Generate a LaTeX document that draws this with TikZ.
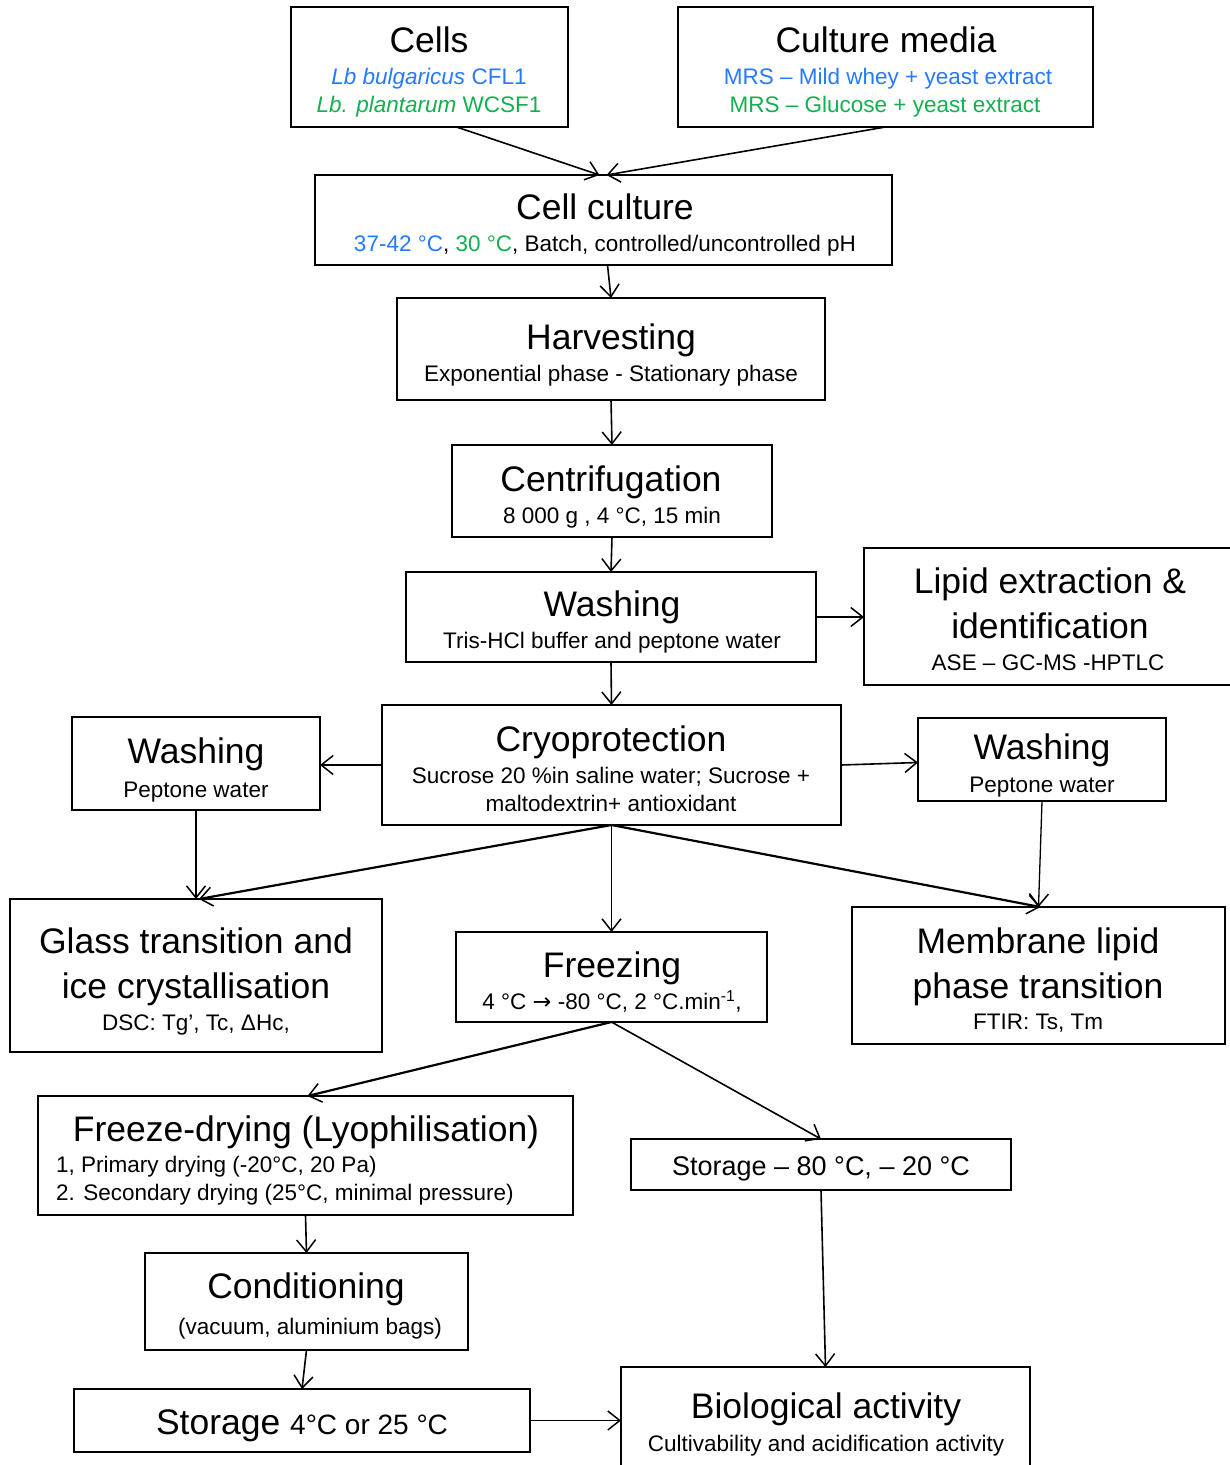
\documentclass[tikz,border=0pt]{standalone}
\usepackage{fontspec}
\setmainfont{Liberation Sans}
\newfontfamily\arrowfont{DejaVu Sans}
\usetikzlibrary{arrows.meta,calc}
\definecolor{cblue}{RGB}{38,122,255}
\definecolor{cgreen}{RGB}{20,176,80}
\newcommand{\bx}[5]{\node[box, minimum width={(#4-#2)*1pt}, minimum height={(#5-#3)*1pt}] (#1) at ({(#2+#4)/2},{(#3+#5)/2}) {};}
\begin{document}
\begin{tikzpicture}[x=1pt,y=-1pt,
  box/.style={draw, line width=2pt, inner sep=0pt, outer sep=0pt},
  ttl/.style={font=\fontsize{35.5}{40}\selectfont, inner sep=0pt, anchor=base},
  sub/.style={font=\fontsize{22.5}{26}\selectfont, inner sep=0pt, anchor=base},
  arr/.style={line width=1.6pt, -{Straight Barb[length=12pt,width=19pt,line width=1.5pt]}},
  thk/.style={arr, line width=2.2pt},
]
\useasboundingbox (0,0) rectangle (1230,1465);
\fill[white] (0,0) rectangle (1230,1465);

% boxes
\bx{cells}{291}{7}{568}{127}
\bx{media}{678}{7}{1093}{127}
\bx{cc}{315}{175}{892}{265}
\bx{harv}{397}{298}{825}{400}
\bx{cent}{452}{445}{772}{537}
\bx{wash}{406}{572}{816}{662}
\bx{lipid}{864}{548}{1240}{685}
\bx{cryo}{382}{705}{841}{825}
\bx{washL}{72}{717}{320}{810}
\bx{washR}{918}{718}{1166}{801}
\bx{glass}{10}{899}{382}{1052}
\bx{freez}{456}{932}{767}{1022}
\bx{memb}{852}{907}{1225}{1044}
\bx{fd}{38}{1096}{573}{1215}
\bx{sto80}{631}{1139}{1011}{1190}
\bx{cond}{145}{1253}{468}{1350}
\bx{sto4}{74}{1389}{530}{1452}
\bx{bio}{621}{1367}{1030}{1480}

% texts
\node[ttl] (t1) at (429,52) {Cells};
\node[sub, text=cblue] (t1a) at (429,84) {\textit{Lb bulgaricus} CFL1};
\node[sub, text=cgreen] (t1b) at (429,112) {\textit{Lb. plantarum} WCSF1};

\node[ttl] (t2) at (886,52) {Culture media};
\node[sub, text=cblue] (t2a) at (888,84) {MRS – Mild whey + yeast extract};
\node[sub, text=cgreen] (t2b) at (885,112) {MRS – Glucose + yeast extract};

\node[ttl] (t3) at (605,219) {Cell culture};
\node[sub] (t3a) at (605,251) {{\color{cblue}37-42 °C}, {\color{cgreen}30 °C}, Batch, controlled/uncontrolled pH};

\node[ttl] (t4) at (611,349) {Harvesting};
\node[sub] (t4a) at (611,381) {Exponential phase - Stationary phase};

\node[ttl] (t5) at (611,491) {Centrifugation};
\node[sub] (t5a) at (612,523) {8 000 g , 4 °C, 15 min};

\node[ttl] (t6) at (612,616) {Washing};
\node[sub] (t6a) at (612,648) {Tris-HCl buffer and peptone water};

\node[ttl] (t7) at (1050,593) {Lipid extraction \&};
\node[ttl] (t7b) at (1050,638) {identification};
\node[sub] (t7a) at (1048,670) {ASE – GC-MS -HPTLC};

\node[ttl] (t8) at (611,751) {Cryoprotection};
\node[sub] (t8a) at (611,783) {Sucrose 20 \%in saline water; Sucrose +};
\node[sub] (t8b) at (611,811) {maltodextrin+ antioxidant};

\node[ttl] (t9) at (196,763) {Washing};
\node[sub] (t9a) at (196,797) {Peptone water};

\node[ttl] (t10) at (1042,759) {Washing};
\node[sub] (t10a) at (1042,792) {Peptone water};

\node[ttl] (t11) at (196,953) {Glass transition and};
\node[ttl] (t11b) at (196,998) {ice crystallisation};
\node[sub] (t11a) at (196,1030) {DSC: Tg’, Tc, ΔHc,};

\node[ttl] (t12) at (612,977) {Freezing};
\node[sub] (t12a) at (612,1009) {4 °C {\arrowfont →} -80 °C, 2 °C.min\textsuperscript{-1},};

\node[ttl] (t13) at (1038,953) {Membrane lipid};
\node[ttl] (t13b) at (1038,998) {phase transition};
\node[sub] (t13a) at (1038,1029) {FTIR: Ts, Tm};

\node[ttl] (t14) at (306,1141) {Freeze-drying (Lyophilisation)};
\node[sub, anchor=base west] (t14a) at (56,1172) {1, Primary drying (-20°C, 20 Pa)};
\node[sub, anchor=base west] (t14b) at (56,1200) {2. Secondary drying (25°C, minimal pressure)};

\node[sub, font=\fontsize{27}{30}\selectfont] (t15) at (821,1175) {Storage – 80 °C, – 20 °C};

\node[ttl] (t16) at (306,1298) {Conditioning};
\node[sub] (t16a) at (310,1334) {(vacuum, aluminium bags)};

\node[ttl] (t17) at (302,1434) {Storage {\fontsize{28}{30}\selectfont 4°C or 25 °C}};

\node[ttl] (t18) at (826,1418) {Biological activity};
\node[sub] (t18a) at (826,1451) {Cultivability and acidification activity};

% connectors
\draw[arr] ([xshift=27pt]cells.south) -- ([xshift=-4pt]cc.north);
\draw[arr] (media.south) -- ([xshift=3pt]cc.north);
\draw[arr] ([xshift=4pt]cc.south) -- (harv.north);
\draw[arr] (harv.south) -- (cent.north);
\draw[arr] (cent.south) -- (wash.north);
\draw[arr] (wash.east) -- (wash.east -| lipid.west);
\draw[arr] (wash.south) -- (cryo.north);
\draw[arr] (cryo.west) -- (cryo.west -| washL.east);
\draw[arr] (cryo.east) -- ([yshift=-3pt]washR.west);
\draw[arr, line width=1.3pt] (washL.south) -- (glass.north);
\draw[arr, line width=1.3pt] (washR.south) -- (memb.north);
\draw[thk] (cryo.south) -- ([xshift=3pt]glass.north);
\draw[arr] (cryo.south) -- (freez.north);
\draw[thk] (cryo.south) -- ([xshift=2pt]memb.north);
\draw[thk] (freez.south) -- ([xshift=2pt]fd.north);
\draw[arr] (freez.south) -- (sto80.north);
\draw[arr] (fd.south) -- (cond.north);
\draw[arr] (cond.south) -- (sto4.north);
\draw[arr] (sto80.south) -- (bio.north);
\draw[arr] (sto4.east) -- (sto4.east -| bio.west);
\end{tikzpicture}
\end{document}
